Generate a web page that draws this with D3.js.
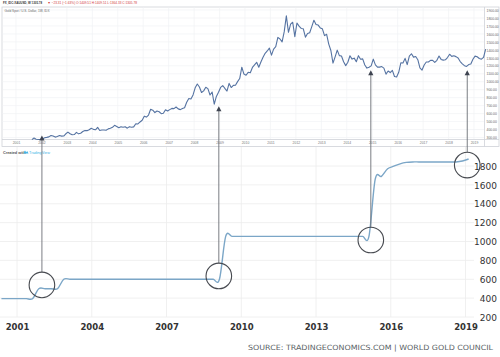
<!DOCTYPE html>
<html><head><meta charset="utf-8">
<script src="https://cdn.jsdelivr.net/npm/d3@7"></script>
<style>
html,body{margin:0;padding:0;background:#fff;}
svg{display:block;}
</style></head>
<body>
<svg id="c" width="500" height="357"></svg>
<script>
// ---------- DATA ----------
// Gold spot (USD/oz), monthly readings; 2001 begins in August
const goldYears = [2001,2002,2003,2004,2005,2006,2007,2008,2009,2010,2011,2012,2013,2014,2015,2016,2017,2018,2019];
const goldMonthly = [
  [null,null,null,null,null,null,null,273,293,279,275,277],
  [282,297,302,308,326,318,305,312,324,317,318,347],
  [368,347,334,337,364,346,354,375,388,386,398,416],
  [402,397,427,388,394,395,391,408,415,428,453,438],
  [422,434,428,435,417,436,429,433,473,470,495,517],
  [568,556,582,654,643,613,632,623,599,604,648,632],
  [650,665,662,683,659,650,665,673,743,789,783,834],
  [923,971,933,865,885,930,913,833,871,718,815,869],
  [928,952,916,883,979,927,954,955,1001,1040,1182,1096],
  [1081,1118,1113,1179,1212,1244,1181,1248,1307,1357,1386,1421],
  [1333,1409,1439,1556,1536,1500,1628,1826,1620,1722,1746,1565],
  [1737,1697,1668,1664,1560,1604,1614,1692,1772,1719,1711,1675],
  [1664,1578,1595,1472,1392,1234,1312,1396,1327,1323,1250,1202],
  [1244,1326,1284,1296,1250,1327,1282,1287,1210,1171,1182,1199],
  [1283,1212,1183,1183,1190,1171,1095,1134,1115,1142,1065,1060],
  [1118,1238,1234,1293,1215,1321,1351,1309,1316,1276,1173,1146],
  [1210,1248,1247,1268,1268,1242,1269,1322,1280,1271,1275,1303],
  [1345,1318,1325,1315,1298,1253,1224,1201,1192,1215,1222,1282],
  [1321,1313,1292,1283,1305,1409]
];
const goldTicksY = [300,400,500,600,700,800,900,1000,1100,1200,1300,1400,1500,1600,1700,1800,1900];
const goldTicksX = [2001,2002,2003,2004,2005,2006,2007,2008,2009,2010,2011,2012,2013,2014,2015,2016,2017,2018,2019];

// Gold reserves (tonnes), quarterly
const reserveQuarters = [
  "2000Q2","2000Q3","2000Q4",
  "2001Q1","2001Q2","2001Q3","2001Q4",
  "2002Q1","2002Q2","2002Q3","2002Q4",
  "2003Q1","2003Q2","2003Q3","2003Q4",
  "2004Q1","2004Q2","2004Q3","2004Q4",
  "2005Q1","2005Q2","2005Q3","2005Q4",
  "2006Q1","2006Q2","2006Q3","2006Q4",
  "2007Q1","2007Q2","2007Q3","2007Q4",
  "2008Q1","2008Q2","2008Q3","2008Q4",
  "2009Q1","2009Q2","2009Q3","2009Q4",
  "2010Q1","2010Q2","2010Q3","2010Q4",
  "2011Q1","2011Q2","2011Q3","2011Q4",
  "2012Q1","2012Q2","2012Q3","2012Q4",
  "2013Q1","2013Q2","2013Q3","2013Q4",
  "2014Q1","2014Q2","2014Q3","2014Q4",
  "2015Q1","2015Q2","2015Q3","2015Q4",
  "2016Q1","2016Q2","2016Q3","2016Q4",
  "2017Q1","2017Q2","2017Q3","2017Q4",
  "2018Q1","2018Q2","2018Q3","2018Q4",
  "2019Q1"
];
const reserveTonnes = [
  395,395,395,
  395,395,395,500,
  500,500,500,600,
  600,600,600,600,
  600,600,600,600,
  600,600,600,600,
  600,600,600,600,
  600,600,600,600,
  600,600,600,600,
  600,1054,1054,1054,
  1054,1054,1054,1054,
  1054,1054,1054,1054,
  1054,1054,1054,1054,
  1054,1054,1054,1054,
  1054,1054,1054,1054,
  1054,1658,1690,1770,
  1798,1823,1838,1843,
  1843,1843,1843,1843,
  1843,1843,1843,1853,
  1874
];
const reserveTicksY = [200,400,600,800,1000,1200,1400,1600,1800];
const reserveTicksX = [2001,2004,2007,2010,2013,2016,2019];

// Highlighted events: date, reserve level at circle, gold level at arrow tip
const eventDates   = [2002.0, 2009.1, 2015.2, 2019.07];
const eventReserve = [540, 635, 1016, 1810];
const eventGoldTip = [326, 691, 1144, 1144];

const headerLeft  = "FX_IDC:XAUUSD, W  1305.78";
const headerRight = "▼ −23.31 (−1.63%)  O:1409.51  H:1409.51  L:1364.33  C:1305.78";
const innerTitle  = "Gold Spot / U.S. Dollar, 1W, IDX";
const sourceText  = "SOURCE: TRADINGECONOMICS.COM | WORLD GOLD COUNCIL";

// ---------- BUILD ----------
const svg = d3.select("#c");
const goldData = [];
goldYears.forEach((y,i)=>goldMonthly[i].forEach((v,m)=>{ if(v!=null) goldData.push({t:y+(m+0.5)/12, v}); }));
const resData = reserveQuarters.map((q,i)=>({t:+q.slice(0,4)+(+q.slice(5)-0.5)/4, v:reserveTonnes[i]}));

const xTop = d3.scaleLinear().domain([2001,2019]).range([16,474]);
const yTop = d3.scaleLinear().domain([300,1900]).range([137.5,10]);
const xBot = d3.scaleLinear().domain([2001,2019]).range([17,465.5]);
const yBot = d3.scaleLinear().domain([200,1800]).range([317,166]);

// ----- bottom chart grid -----
const gBot = svg.append("g");
gBot.selectAll("line.h").data(reserveTicksY).join("line")
  .attr("x1",0).attr("x2",474).attr("y1",d=>yBot(d)).attr("y2",d=>yBot(d))
  .attr("stroke","#ececec").attr("stroke-width",0.8);
gBot.selectAll("line.v").data(reserveTicksX).join("line")
  .attr("x1",d=>xBot(d)).attr("x2",d=>xBot(d)).attr("y1",147).attr("y2",317)
  .attr("stroke","#ececec").attr("stroke-width",0.8);

// reserve line
gBot.append("path").datum(resData)
  .attr("fill","none").attr("stroke","#7ba6c7").attr("stroke-width",1.4)
  .attr("d", d3.line().x(d=>xBot(d.t)).y(d=>yBot(d.v)).curve(d3.curveCardinal));

// bottom axes
const ayB = gBot.append("g").attr("transform","translate(497,0)")
  .call(d3.axisLeft(yBot).tickValues(reserveTicksY).tickSize(0).tickPadding(0).tickFormat(d3.format("d")));
ayB.select(".domain").remove();
ayB.selectAll("text").attr("font-family","DejaVu Sans, sans-serif").attr("font-size",9)
  .attr("fill","#333").attr("dy","0.35em");

const axB = gBot.append("g").attr("transform","translate(0,327)")
  .call(d3.axisBottom(xBot).tickValues(reserveTicksX).tickSize(0).tickPadding(0).tickFormat(d3.format("d")));
axB.select(".domain").remove();
axB.selectAll("text").attr("font-family","DejaVu Sans, sans-serif").attr("font-size",8.5)
  .attr("font-weight","bold").attr("fill","#333").attr("y",0).attr("dy","0.35em");

svg.append("text").attr("x",493).attr("y",349.5).attr("text-anchor","end")
  .attr("font-family","DejaVu Sans, sans-serif").attr("font-size",7.2).attr("fill","#5a5f66")
  .attr("textLength",245).attr("lengthAdjust","spacingAndGlyphs").text(sourceText);

// ----- top chart -----
const gTop = svg.append("g");
gTop.append("rect").attr("x",2).attr("y",7).attr("width",497).attr("height",139.5)
  .attr("fill","#fff").attr("stroke","#cfd2d8").attr("stroke-width",0.8);
gTop.selectAll("line.h").data(goldTicksY).join("line")
  .attr("x1",2.5).attr("x2",484).attr("y1",d=>yTop(d)).attr("y2",d=>yTop(d))
  .attr("stroke","#f1f2f5").attr("stroke-width",0.7);
gTop.selectAll("line.v").data(goldTicksX).join("line")
  .attr("x1",d=>xTop(d)).attr("x2",d=>xTop(d)).attr("y1",7.5).attr("y2",139.5)
  .attr("stroke","#f1f2f5").attr("stroke-width",0.7);
gTop.append("line").attr("x1",2).attr("x2",499).attr("y1",139.5).attr("y2",139.5)
  .attr("stroke","#cfd2d8").attr("stroke-width",0.8);
gTop.append("line").attr("x1",484.5).attr("x2",484.5).attr("y1",7).attr("y2",146.5)
  .attr("stroke","#cfd2d8").attr("stroke-width",0.8);

gTop.append("path").datum(goldData)
  .attr("fill","none").attr("stroke","#5573a2").attr("stroke-width",1.1).attr("stroke-linejoin","round")
  .attr("d", d3.line().x(d=>xTop(d.t)).y(d=>yTop(d.v)));

const ayT = gTop.append("g").attr("transform","translate(486.5,0)")
  .call(d3.axisRight(yTop).tickValues(goldTicksY).tickSize(0).tickPadding(0).tickFormat(d3.format(".2f")));
ayT.select(".domain").remove();
ayT.selectAll("text").attr("font-family","Liberation Sans, Arial, sans-serif").attr("font-size",3.4)
  .attr("fill","#666").attr("dy","0.35em");

const axT = gTop.append("g").attr("transform","translate(0,143)")
  .call(d3.axisBottom(xTop).tickValues(goldTicksX).tickSize(0).tickPadding(0).tickFormat(d3.format("d")));
axT.select(".domain").remove();
axT.selectAll("text").attr("font-family","Liberation Sans, Arial, sans-serif").attr("font-size",3.4)
  .attr("fill","#777").attr("y",0).attr("dy","0.35em");

// header texts
svg.append("text").attr("x",3).attr("y",4.2).attr("font-family","Liberation Sans, Arial, sans-serif")
  .attr("font-size",3.6).attr("font-weight","bold").attr("fill","#333")
  .attr("textLength",39).attr("lengthAdjust","spacingAndGlyphs").text(headerLeft);
svg.append("text").attr("x",47.5).attr("y",4.2).attr("font-family","Liberation Sans, Arial, sans-serif")
  .attr("font-size",3.6).attr("fill","#d23a3a")
  .attr("textLength",89.5).attr("lengthAdjust","spacingAndGlyphs").text(headerRight);
svg.append("text").attr("x",4.5).attr("y",12).attr("font-family","Liberation Sans, Arial, sans-serif")
  .attr("font-size",3.2).attr("fill","#666")
  .attr("textLength",45).attr("lengthAdjust","spacingAndGlyphs").text(innerTitle);

// created with
svg.append("text").attr("x",3).attr("y",153.5).attr("font-family","Liberation Sans, Arial, sans-serif")
  .attr("font-size",3.8).attr("font-weight","bold").attr("fill","#555").text("Created with");
svg.append("path").attr("d","M23.5,153.5 l1.5,-3 l1.2,1.8 l1,-1.3 l1.4,2.5 z").attr("fill","#43b4e6");
svg.append("text").attr("x",29).attr("y",153.5).attr("font-family","Liberation Sans, Arial, sans-serif")
  .attr("font-size",3.8).attr("fill","#43b4e6").text("TradingView");

// ----- arrows and circles -----
const gA = svg.append("g");
const R = 12.8;
eventDates.forEach((t,i)=>{
  const x = xBot(t), cy = yBot(eventReserve[i]), tip = yTop(eventGoldTip[i]);
  gA.append("line").attr("x1",x).attr("x2",x).attr("y1",cy-R).attr("y2",tip+4)
    .attr("stroke","#6b6e75").attr("stroke-width",0.9);
  gA.append("path").attr("d",`M${x},${tip} L${x-2.6},${tip+5} L${x+2.6},${tip+5} Z`).attr("fill","#3e4350");
  gA.append("circle").attr("cx",x).attr("cy",cy).attr("r",R)
    .attr("fill","none").attr("stroke","#474a50").attr("stroke-width",1.1);
});
</script>
</body></html>
